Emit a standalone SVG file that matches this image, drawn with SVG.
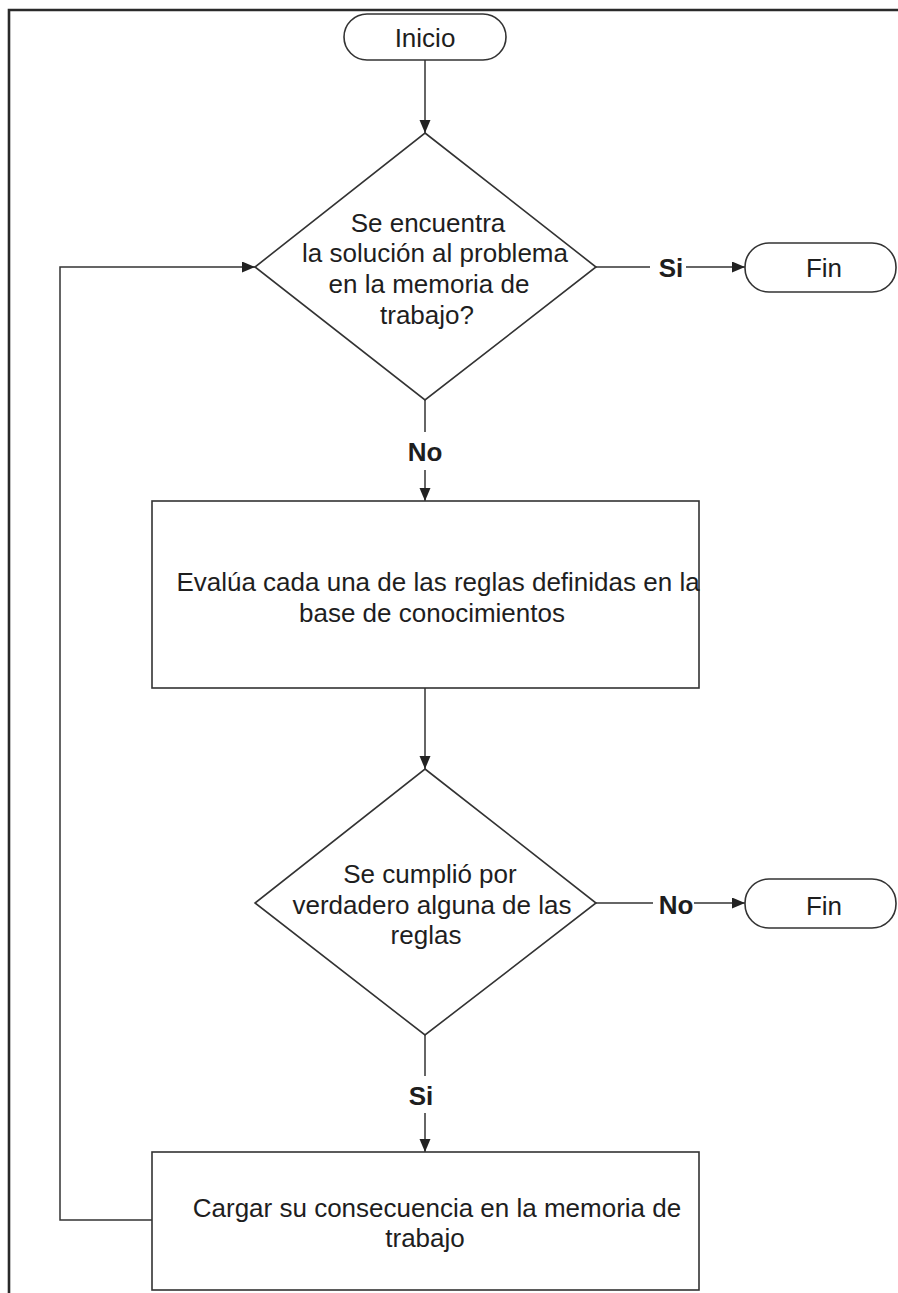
<svg xmlns="http://www.w3.org/2000/svg" width="898" height="1293" viewBox="0 0 898 1293">
<style>
.shape{fill:#fff;stroke:#333;stroke-width:1.6}
.line{fill:none;stroke:#333;stroke-width:1.5}
.frame{fill:none;stroke:#2a2a2a;stroke-width:2.6}
text{font-family:"Liberation Sans",Arial,sans-serif;font-size:26px;fill:#1e1e1e;text-anchor:middle}
.lbl{font-weight:bold}
</style>
<defs>
<marker id="ah" markerUnits="userSpaceOnUse" markerWidth="14" markerHeight="12" refX="13" refY="5.5" orient="auto">
<path d="M0,0 L13,5.5 L0,11 Z" fill="#222"/>
</marker>
</defs>
<path class="frame" d="M9,1293 L9,10 L898,10"/>
<g id="connectors">
<path class="line" d="M425,60 L425,133" marker-end="url(#ah)"/>
<path class="line" d="M596,267 L650,267"/>
<path class="line" d="M686,267 L745,267" marker-end="url(#ah)"/>
<text class="lbl" x="671" y="277">Si</text>
<path class="line" d="M425,400 L425,432"/>
<path class="line" d="M425,470 L425,501" marker-end="url(#ah)"/>
<text class="lbl" x="425" y="461">No</text>
<path class="line" d="M425,688 L425,769" marker-end="url(#ah)"/>
<path class="line" d="M596,903 L653,903"/>
<path class="line" d="M694,903 L745,903" marker-end="url(#ah)"/>
<text class="lbl" x="676" y="914">No</text>
<path class="line" d="M425,1035 L425,1076"/>
<path class="line" d="M425,1113 L425,1152" marker-end="url(#ah)"/>
<text class="lbl" x="421" y="1105">Si</text>
<path class="line" d="M152,1220 L60,1220 L60,267 L255,267" marker-end="url(#ah)"/>
</g>
<g id="inicio">
<rect class="shape" x="344" y="14" width="162" height="46" rx="23"/>
<text x="425" y="47">Inicio</text>
</g>
<g id="decision1">
<polygon class="shape" points="425,133 596,267 425,400 255,267"/>
<text x="428" y="232">Se encuentra</text>
<text x="435" y="262">la solución al problema</text>
<text x="429" y="293">en la memoria de</text>
<text x="427" y="324">trabajo?</text>
</g>
<g id="fin1">
<rect class="shape" x="745" y="243" width="151" height="49" rx="24"/>
<text x="824" y="277">Fin</text>
</g>
<g id="evalua">
<rect class="shape" x="152" y="501" width="547" height="187"/>
<text x="438" y="591">Evalúa cada una de las reglas definidas en la</text>
<text x="432" y="622">base de conocimientos</text>
</g>
<g id="decision2">
<polygon class="shape" points="425,769 596,903 425,1035 255,903"/>
<text x="430" y="883">Se cumplió por</text>
<text x="432" y="914">verdadero alguna de las</text>
<text x="426" y="944">reglas</text>
</g>
<g id="fin2">
<rect class="shape" x="745" y="879" width="151" height="49" rx="24"/>
<text x="824" y="915">Fin</text>
</g>
<g id="cargar">
<rect class="shape" x="152" y="1152" width="547" height="138"/>
<text x="437" y="1217">Cargar su consecuencia en la memoria de</text>
<text x="425" y="1247">trabajo</text>
</g>
</svg>
